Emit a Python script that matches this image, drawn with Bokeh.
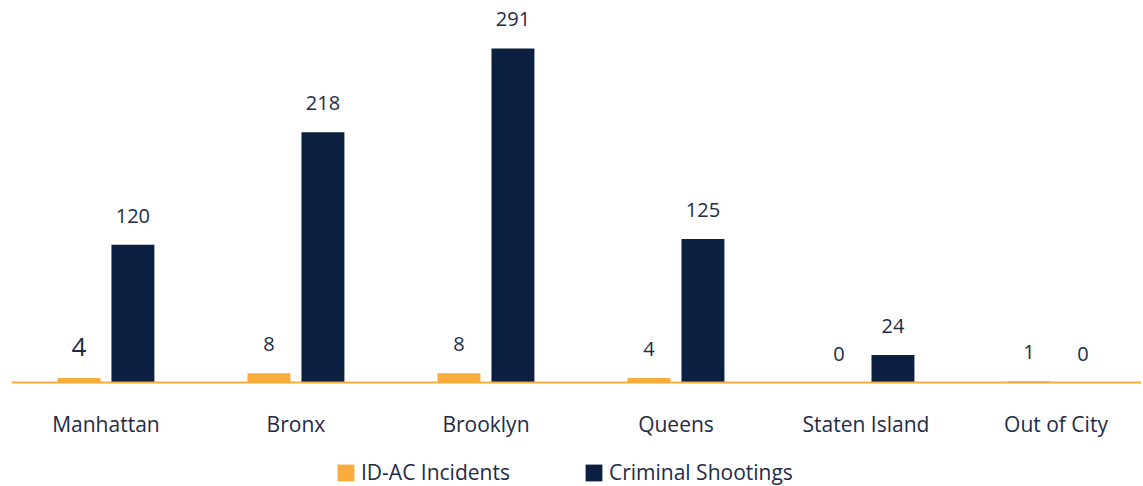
from bokeh.plotting import figure
from bokeh.models import ColumnDataSource, LabelSet, Legend, LegendItem, Range1d, Span
from bokeh.core.properties import value
from bokeh.transform import dodge
from bokeh.embed import file_html
from bokeh.resources import INLINE

categories = ["Manhattan", "Bronx", "Brooklyn", "Queens", "Staten Island", "Out of City"]
idac_incidents = [4, 8, 8, 4, 0, 1]
criminal_shootings = [120, 218, 291, 125, 24, 0]
series_names = ["ID-AC Incidents", "Criminal Shootings"]

# styles
idac_label_sizes = ["26px", "20px", "20px", "20px", "20px", "20px"]
ORANGE = "#F9AB3B"
NAVY = "#0B1F40"
TEXT = "#1E2B47"
FONT = "Open Sans"

idx = list(range(len(categories)))
src = ColumnDataSource(dict(
    idx=idx,
    cat=categories,
    zero=[0] * len(categories),
    inc=idac_incidents,
    sho=criminal_shootings,
    inc_txt=[str(v) for v in idac_incidents],
    sho_txt=[str(v) for v in criminal_shootings],
    inc_size=idac_label_sizes,
))

p = figure(width=1141, height=486,
           x_range=Range1d(-0.497, 5.450), y_range=Range1d(-90.59, 332.75),
           x_axis_location=None, y_axis_location=None,
           output_backend="svg", toolbar_location=None,
           min_border_left=11, min_border_right=0, min_border_top=0, min_border_bottom=0)
p.outline_line_color = None
p.grid.visible = False
p.background_fill_color = "white"

BW = 0.226
OFF = 0.142
r1 = p.vbar(x=dodge("idx", -OFF), top="inc", width=BW, source=src,
            fill_color=ORANGE, line_color=None)
r2 = p.vbar(x=dodge("idx", OFF), top="sho", width=BW, source=src,
            fill_color=NAVY, line_color=None)

p.add_layout(Span(location=0, dimension="width", line_color=ORANGE, line_width=2))

l1 = LabelSet(x=dodge("idx", -OFF), y="inc", text="inc_txt", source=src,
              text_align="center", text_baseline="alphabetic", y_offset=22,
              text_font=value(FONT), text_font_size={"field": "inc_size"}, text_color=TEXT)
l2 = LabelSet(x=dodge("idx", OFF), y="sho", text="sho_txt", source=src,
              text_align="center", text_baseline="alphabetic", y_offset=22,
              text_font=value(FONT), text_font_size=value("20px"), text_color=TEXT)
lc = LabelSet(x="idx", y="zero", text="cat", source=src,
              text_align="center", text_baseline="alphabetic", y_offset=-49,
              text_font=value(FONT), text_font_size=value("21px"), text_color=TEXT)
p.add_layout(l1)
p.add_layout(l2)
p.add_layout(lc)

legend = Legend(items=[LegendItem(label=series_names[0], renderers=[r1]),
                       LegendItem(label=series_names[1], renderers=[r2])],
                orientation="horizontal", location=(324, 0),
                border_line_color=None, background_fill_alpha=0,
                glyph_width=21, glyph_height=21, label_standoff=5, spacing=73,
                label_height=21,
                label_text_font=FONT, label_text_font_size="21px",
                label_text_color=TEXT, padding=0, margin=0)
p.add_layout(legend, "center")

open("out.html", "w").write(file_html(p, INLINE))
